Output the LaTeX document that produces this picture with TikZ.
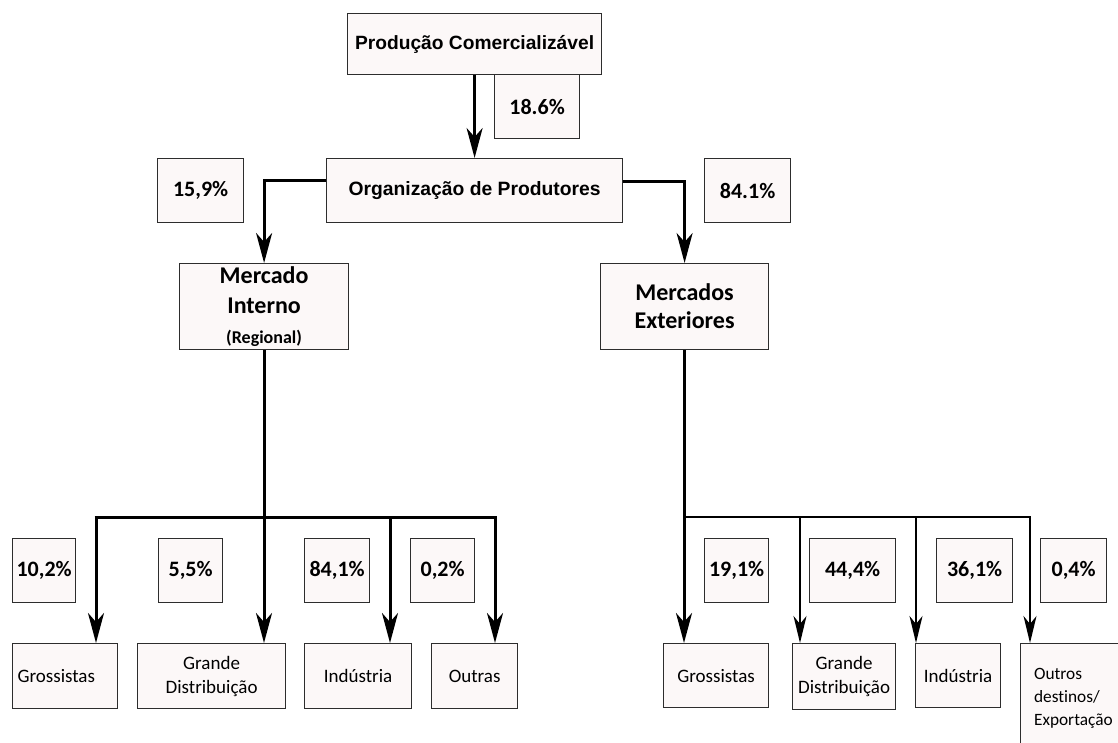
\documentclass[tikz,border=0pt]{standalone}
\usepackage{fontspec}
\setmainfont{Carlito}[Ligatures={NoCommon}]
\newfontfamily\arialfont{Liberation Sans}
\usetikzlibrary{arrows.meta}

\definecolor{boxfill}{RGB}{252,248,248}
\definecolor{boxline}{RGB}{45,45,45}

\tikzset{
  box/.style={draw=boxline, line width=1.2pt, fill=boxfill, inner sep=0pt,
              anchor=north west, align=center},
  pct/.style={box, minimum height=64pt, font=\fontsize{22}{24}\selectfont\bfseries},
  dest/.style={box, font=\fontsize{19}{24}\selectfont},
  market/.style={box, minimum width=169pt, minimum height=86pt},
  thick arrow/.style={line width=3pt, -{Stealth[length=30pt,width=16pt,inset=9pt]}},
  thin arrow/.style={line width=2pt, -{Stealth[length=27pt,width=13pt,inset=8pt]}},
  bar/.style={line width=3pt},
  thin bar/.style={line width=2pt},
}

\begin{document}
\begin{tikzpicture}[x=1pt, y=-1pt]
\useasboundingbox[fill=white] (0,0) rectangle (1118,742);
\clip (0,0) rectangle (1118,742);

% top of the chain
\node[pct, minimum width=85pt] (p186) at (494,74) {18.6\%};
\node[box, minimum width=254pt, minimum height=61pt,
      font=\arialfont\fontsize{19.2}{22}\selectfont\bfseries] (prod) at (347,13)
      {Produção Comercializável};
\node[box, minimum width=296pt, minimum height=64pt,
      font=\arialfont\fontsize{19.3}{22}\selectfont\bfseries] (org) at (326,158)
      {Organização de Produtores};
\node[pct, minimum width=86pt] (p159) at (157,158) {15,9\%};
\node[pct, minimum width=86pt] (p841) at (704,158) {84.1\%};

% markets
\node[market, font=\fontsize{24}{30}\selectfont\bfseries] (mi) at (179,263)
      {Mercado\\Interno\\{\fontsize{18}{30}\selectfont(Regional)}};
\node[market, minimum width=168pt, font=\fontsize{24}{28}\selectfont\bfseries] (me) at (600,263)
      {Mercados\\Exteriores};

% internal market shares
\node[pct, minimum width=63pt] (ip1) at (12,538) {10,2\%};
\node[pct, minimum width=64pt] (ip2) at (158,538) {5,5\%};
\node[pct, minimum width=65pt] (ip3) at (304,538) {84,1\%};
\node[pct, minimum width=64pt] (ip4) at (410,538) {0,2\%};

% external market shares
\node[pct, minimum width=64pt] (ep1) at (704,538) {19,1\%};
\node[pct, minimum width=86pt] (ep2) at (809,538) {44,4\%};
\node[pct, minimum width=76pt] (ep3) at (936,538) {36,1\%};
\node[pct, minimum width=66pt] (ep4) at (1040,538) {0,4\%};

% internal destinations
\node[dest, minimum width=105pt, minimum height=65pt, text width=95pt, align=left,
      inner xsep=5pt] (id1) at (12,643) {Grossistas};
\node[dest, minimum width=148pt, minimum height=65pt] (id2) at (137,643) {Grande\\Distribuição};
\node[dest, minimum width=107pt, minimum height=65pt] (id3) at (304,643) {Indústria};
\node[dest, minimum width=86pt, minimum height=65pt] (id4) at (431,643) {Outras};

% external destinations
\node[dest, minimum width=105pt, minimum height=64pt] (ed1) at (663,643) {Grossistas};
\node[dest, minimum width=103pt, minimum height=66pt] (ed2) at (792,643) {Grande\\Distribuição};
\node[dest, minimum width=85pt, minimum height=64pt] (ed3) at (915,643) {Indústria};
\node[dest, minimum width=110pt, minimum height=110pt, text width=97pt, align=left,
      inner xsep=0pt, font=\fontsize{17.3}{23}\selectfont] (ed4) at (1020,643)
      {\hspace*{7pt}\parbox[c]{90pt}{\raggedright Outros\\destinos/\\Exportação}};

% flows from the top
\draw[thick arrow] (prod.south) -- (org.north);
\draw[thick arrow] ([yshift=10pt]org.west) -| (mi.north);
\draw[thick arrow] ([yshift=9pt]org.east) -| (me.north);

% internal market distribution
\coordinate (ib1) at (96,517);
\coordinate (ib2) at (264,517);
\coordinate (ib3) at (390,517);
\coordinate (ib4) at (495,517);
\draw[bar] (mi.south) -- (mi.south |- ib1);
\draw[bar] ([xshift=-1.5pt]ib1) -- ([xshift=1.5pt]ib4);
\draw[thick arrow] (ib1) -- (ib1 |- id1.north);
\draw[thick arrow] (ib2) -- (ib2 |- id2.north);
\draw[thick arrow] (ib3) -- (ib3 |- id3.north);
\draw[thick arrow] (ib4) -- (ib4 |- id4.north);

% external market distribution
\coordinate (eb1) at (684,517);
\coordinate (eb2) at (800,517);
\coordinate (eb3) at (916,517);
\coordinate (eb4) at (1030,517);
\draw[bar] (me.south) -- (me.south |- eb1);
\draw[thin bar] (eb1) -- ([xshift=1pt]eb4);
\draw[thick arrow] (eb1) -- (eb1 |- ed1.north);
\draw[thin arrow] (eb2) -- (eb2 |- ed2.north);
\draw[thin arrow] (eb3) -- (eb3 |- ed3.north);
\draw[thin arrow] (eb4) -- (eb4 |- ed4.north);
\end{tikzpicture}
\end{document}
